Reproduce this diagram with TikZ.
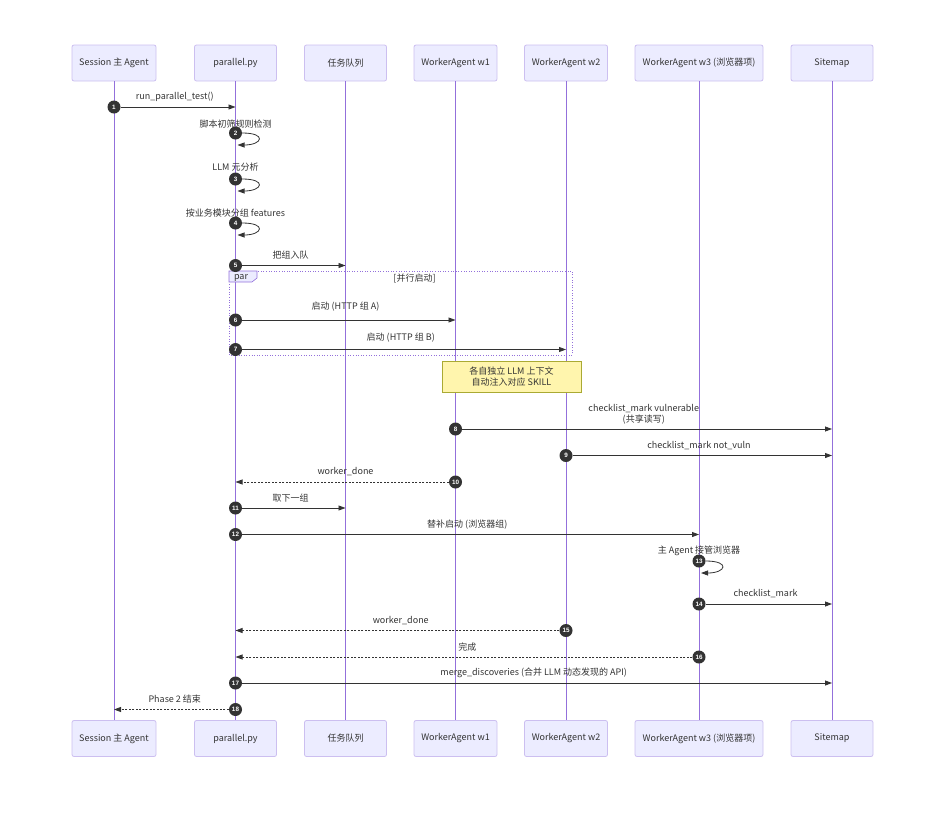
\documentclass[tikz,border=0pt]{standalone}
\usepackage{fontspec}
\setmainfont{Noto Sans CJK SC}
\newfontfamily\numfont{Liberation Sans}
\usetikzlibrary{positioning,calc,arrows.meta}
\definecolor{actorfill}{HTML}{ECECFF}
\definecolor{actorline}{HTML}{CCBFF0}
\definecolor{lifecol}{HTML}{9370DB}
\definecolor{msgcol}{HTML}{333333}
\definecolor{notefill}{HTML}{FFF5AD}
\definecolor{noteline}{HTML}{AAAA33}
\tikzset{
  actor/.style={draw=actorline,fill=actorfill,line width=0.8pt,rounded corners=2pt,
    minimum height=36pt,font=\fontsize{9}{11}\selectfont,text=msgcol},
  life/.style={draw=lifecol,line width=0.7pt},
  msg/.style={draw=msgcol,line width=0.8pt,-{Triangle[length=7pt,width=5pt]}},
  reply/.style={msg,dash pattern=on 2pt off 1.5pt},
  num/.style={circle,fill=msgcol,text=white,inner sep=0pt,minimum size=13pt,
    font=\numfont\bfseries\fontsize{6.3}{7}\selectfont},
  lbl/.style={font=\fontsize{9}{11}\selectfont,text=msgcol,inner sep=0pt,align=center},
  parbox/.style={draw=lifecol,line width=0.6pt,dotted},
  partab/.style={draw=lifecol,fill=actorfill,line width=0.6pt},
  notebox/.style={draw=noteline,fill=notefill,line width=0.7pt,minimum width=139pt,
    minimum height=31pt,font=\fontsize{9}{11}\selectfont,text=msgcol,align=center,inner sep=1pt}
}
\begin{document}
\begin{tikzpicture}[x=1pt,y=-1pt]
\useasboundingbox (0,0) rectangle (940,812);
%PARTICIPANTS AND LIFELINES
\foreach \n/\x/\w/\t in {s/114/84/Session 主 Agent,p/235.5/82/parallel.py,q/345.5/82/任务队列,
    wa/455.5/83/WorkerAgent w1,wb/566/83/WorkerAgent w2,wc/699/128/WorkerAgent w3 (浏览器项),sm/832/82/Sitemap}{
  \node[actor,minimum width=\w pt] (\n) at (\x,63) {\t};
  \node[actor,minimum width=\w pt] (\n-end) at (\x,738.5) {\t};
  \draw[life] (\n) -- (\n-end);
}
%PAR BLOCK
\draw[parbox] (229,271) rectangle (572,355);
\draw[partab] (229,271) -- (257,271) -- (257,278) -- (252,282) -- (229,282) -- cycle;
\node[lbl] (partag) at (241,278) {par};
\node[lbl] (partitle) at (414.5,278) {[并行启动]};
%NOTE
\node[notebox] (note) at (511.5,376.5) {各自独立 LLM 上下文\\自动注入对应 SKILL};
%MESSAGES
\node[num] (n1) at (s |- 0,107) {1};
\draw[msg] (n1) -- (n1 -| p);
\node[lbl] (t1) at ($(n1)!.5!(n1 -| p)+(0,-10)$) {run\_parallel\_test()};
\node[num] (n2) at (p |- 0,133) {2};
\draw[msg] (n2.east) .. controls +(25,0) and +(25,0) .. ($(n2)+(2,12)$);
\node[lbl] (t2) at ($(n2)+(0,-9)$) {脚本初筛规则检测};
\node[num] (n3) at (p |- 0,179) {3};
\draw[msg] (n3.east) .. controls +(25,0) and +(25,0) .. ($(n3)+(2,12)$);
\node[lbl] (t3) at ($(n3)+(0,-12)$) {LLM 元分析};
\node[num] (n4) at (p |- 0,223) {4};
\draw[msg] (n4.east) .. controls +(25,0) and +(25,0) .. ($(n4)+(2,12)$);
\node[lbl] (t4) at ($(n4)+(0,-10)$) {按业务模块分组 features};
\node[num] (n5) at (p |- 0,265.5) {5};
\draw[msg] (n5) -- (n5 -| q);
\node[lbl] (t5) at ($(n5)!.5!(n5 -| q)+(0,-10)$) {把组入队};
\node[num] (n6) at (p |- 0,320) {6};
\draw[msg] (n6) -- (n6 -| wa);
\node[lbl] (t6) at ($(n6)!.5!(n6 -| wa)+(0,-13)$) {启动 (HTTP 组 A)};
\node[num] (n7) at (p |- 0,349.5) {7};
\draw[msg] (n7) -- (n7 -| wb);
\node[lbl] (t7) at ($(n7)!.5!(n7 -| wb)+(0,-12)$) {启动 (HTTP 组 B)};
\node[num] (n8) at (wa |- 0,429) {8};
\draw[msg] (n8) -- (n8 -| sm);
\node[lbl] (t8) at ($(n8)!.5!(n8 -| sm)+(0,-15)$) {checklist\_mark vulnerable\\(共享读写)};
\node[num] (n9) at (wb |- 0,455.5) {9};
\draw[msg] (n9) -- (n9 -| sm);
\node[lbl] (t9) at ($(n9)!.5!(n9 -| sm)+(0,-10)$) {checklist\_mark not\_vuln};
\node[num] (n10) at (wa |- 0,482) {10};
\draw[reply] (n10) -- (n10 -| p);
\node[lbl] (t10) at ($(n10)!.5!(n10 -| p)+(0,-10)$) {worker\_done};
\node[num] (n11) at (p |- 0,508) {11};
\draw[msg] (n11) -- (n11 -| q);
\node[lbl] (t11) at ($(n11)!.5!(n11 -| q)+(0,-10)$) {取下一组};
\node[num] (n12) at (p |- 0,534.5) {12};
\draw[msg] (n12) -- (n12 -| wc);
\node[lbl] (t12) at ($(n12)!.5!(n12 -| wc)+(0,-10)$) {替补启动 (浏览器组)};
\node[num] (n13) at (wc |- 0,561) {13};
\draw[msg] (n13.east) .. controls +(25,0) and +(25,0) .. ($(n13)+(2,12)$);
\node[lbl] (t13) at ($(n13)+(0,-10)$) {主 Agent 接管浏览器};
\node[num] (n14) at (wc |- 0,604) {14};
\draw[msg] (n14) -- (n14 -| sm);
\node[lbl] (t14) at ($(n14)!.5!(n14 -| sm)+(0,-10)$) {checklist\_mark};
\node[num] (n15) at (wb |- 0,630.5) {15};
\draw[reply] (n15) -- (n15 -| p);
\node[lbl] (t15) at ($(n15)!.5!(n15 -| p)+(0,-10)$) {worker\_done};
\node[num] (n16) at (wc |- 0,657) {16};
\draw[reply] (n16) -- (n16 -| p);
\node[lbl] (t16) at ($(n16)!.5!(n16 -| p)+(0,-10)$) {完成};
\node[num] (n17) at (p |- 0,683) {17};
\draw[msg] (n17) -- (n17 -| sm);
\node[lbl] (t17) at ($(n17)!.5!(n17 -| sm)+(0,-10)$) {merge\_discoveries (合并 LLM 动态发现的 API)};
\node[num] (n18) at (p |- 0,709.5) {18};
\draw[reply] (n18) -- (n18 -| s);
\node[lbl] (t18) at ($(n18)!.5!(n18 -| s)+(0,-10)$) {Phase 2 结束};
\end{tikzpicture}
\end{document}
